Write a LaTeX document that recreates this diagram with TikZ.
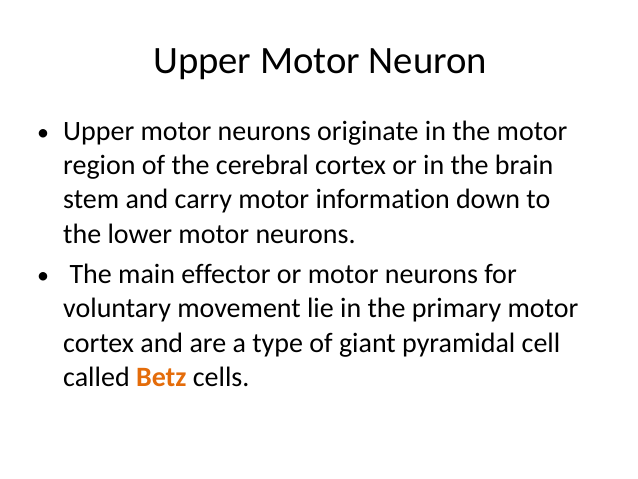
\documentclass[tikz,border=0pt]{standalone}
\usepackage{fontspec}
\setmainfont{Carlito}[Ligatures=NoCommon]
\usetikzlibrary{positioning}
\definecolor{betzorange}{RGB}{228,108,10}
\tikzset{%
  title/.style = {anchor=base west,inner sep=0pt,
        font=\fontsize{38.7}{44}\selectfont},
  body/.style = {anchor=base west,inner sep=0pt,
        font=\fontsize{28}{33}\selectfont},
  dot/.style = {anchor=base west,inner sep=0pt,
        font=\fontsize{24}{30}\selectfont}
}
\begin{document}
\begin{tikzpicture}[x=1pt,y=-1pt]
    \useasboundingbox[fill=white] (0,0) rectangle (638,479);
    \node[title] (head) at (153,73) {Upper Motor Neuron};
    % first point
    \node[dot] (b1) at (37,140) {•};
    \node[body] (l1) at (63,140) {Upper motor neurons originate in the motor};
    \node[body] (l2) at (63,174) {region of the cerebral cortex or in the brain};
    \node[body] (l3) at (63,208) {stem and carry motor information down to};
    \node[body] (l4) at (63,243) {the lower motor neurons.};
    % second point
    \node[dot] (b2) at (37,283) {•};
    \node[body] (l5) at (63,283) {\ The main effector or motor neurons for};
    \node[body] (l6) at (63,317) {voluntary movement lie in the primary motor};
    \node[body] (l7) at (63,352) {cortex and are a type of giant pyramidal cell};
    \node[body] (l8) at (63,386) {called \textcolor{betzorange}{\textbf{Betz}} cells.};
\end{tikzpicture}
\end{document}
